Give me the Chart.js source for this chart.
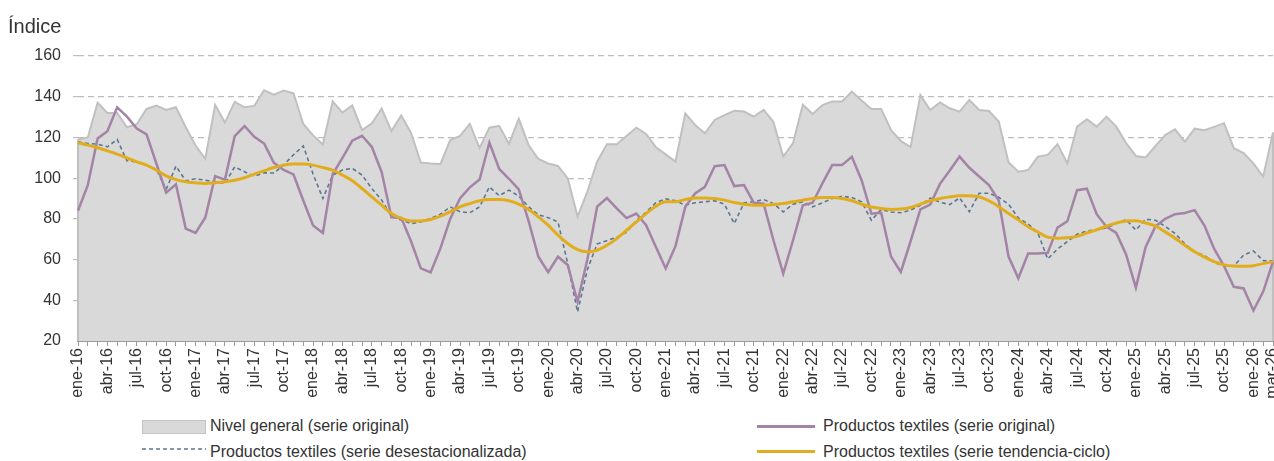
<!DOCTYPE html>
<html lang="es">
<head>
<meta charset="utf-8">
<script src="https://cdn.jsdelivr.net/npm/chart.js@4.4.1/dist/chart.umd.min.js"></script>
<style>
  body { margin: 0; background: #fff; font-family: "Liberation Sans", Arial, sans-serif; color: #333; }
  #wrap { position: relative; width: 1274px; height: 461px; overflow: hidden; }
  #titulo { position: absolute; left: 8px; top: 15px; font-size: 20px; color: #333; }
  #grafico { position: absolute; left: 0; top: 0; }
  .ley { position: absolute; font-size: 16px; color: #333; white-space: nowrap; }
  .sim { position: absolute; }
</style>
</head>
<body>
<div id="wrap">
  <canvas id="grafico" width="1274" height="403"></canvas>
  <div id="titulo">Índice</div>

  <div class="sim" style="left:142px;top:420px;width:62px;height:12px;background:#d9d9d9;border:1px solid #c4c4c4;"></div>
  <div class="ley" style="left:210px;top:417px;">Nivel general (serie original)</div>

  <svg class="sim" style="left:142px;top:446px;" width="64" height="6"><line x1="0" y1="3" x2="64" y2="3" stroke="#5a7892" stroke-width="1.5" stroke-dasharray="4,3"/></svg>
  <div class="ley" style="left:210px;top:443px;">Productos textiles (serie desestacionalizada)</div>

  <div class="sim" style="left:757px;top:425px;width:58px;height:3px;background:#a383a6;"></div>
  <div class="ley" style="left:823px;top:417px;">Productos textiles (serie original)</div>

  <div class="sim" style="left:757px;top:450px;width:58px;height:3px;background:#e2ad1c;"></div>
  <div class="ley" style="left:823px;top:443px;">Productos textiles (serie tendencia-ciclo)</div>
</div>
<script>
/*global Chart*/
var meses = ['ene', 'feb', 'mar', 'abr', 'may', 'jun', 'jul', 'ago', 'sep', 'oct', 'nov', 'dic'];
var anios = ['16', '17', '18', '19', '20', '21', '22', '23', '24', '25', '26'];
var totalMeses = 123; // ene-16 .. mar-26

var nivelGeneral = [
  119, 120, 137, 132, 132, 125, 126.5, 134, 135.6, 133.5,
  134.8, 125, 116, 109.5, 136, 127.3, 137.5, 134.8, 135.5, 143.2,
  141, 143, 141.7, 126.6, 121, 116.5, 137.7, 132.2, 135.8, 123.6,
  126.9, 134.2, 123.1, 130.8, 122.2, 107.7, 107.2, 106.9, 118.7, 120.7,
  126.6, 114.8, 124.8, 125.7, 116.8, 129.1, 116.3, 109.4, 107.2, 106,
  99.9, 81.1, 93.4, 108.1, 116.7, 116.7, 120.7, 124.8, 121.7, 115.2,
  111.7, 108.1, 131.8, 126.1, 122, 128.6, 131, 133.1, 132.7, 130.2,
  133.5, 127.6, 110.6, 117.2, 136.1, 131.5, 135.9, 137.6, 137.7, 142.5,
  138.1, 134, 134, 123.7, 118.3, 115.2, 140.8, 133.5, 137.2, 134.3,
  132.7, 138.4, 133.5, 133, 127.8, 107.8, 103.2, 104, 110.6, 111.4,
  116.7, 107.3, 125.3, 128.9, 125.3, 130.2, 125.3, 117.2, 110.9, 110.2,
  115.8, 121.2, 124, 117.9, 124.3, 123.5, 125.2, 127, 114.7, 112.3,
  107.3, 100.8, 122.4
];

var textilesOriginal = [
  84, 96.5, 119.5, 123, 134.8, 130.2, 124.4, 121.5, 107.2, 92.9,
  97, 75.2, 73.1, 80.7, 101, 99.3, 120.7, 125.6, 120.3, 117,
  107.5, 104, 101.8, 89, 76.8, 73.1, 102, 110, 118.4, 120.8,
  115.3, 103, 80.8, 80.5, 69, 55.7, 53.7, 65.5, 80, 90,
  95.5, 99.3, 117.5, 104.5, 99.7, 94.5, 79, 61.4, 53.8, 61.4,
  57.3, 39.3, 60, 86, 90.2, 85.2, 80.4, 82.6, 76.9, 66.2,
  55.6, 66.6, 85.9, 92.5, 95.7, 105.9, 106.4, 96.1, 96.6, 87.9,
  87.5, 69.5, 53.1, 69.5, 86.7, 87.9, 97.4, 106.4, 106.4, 110.5,
  99, 82.5, 83, 61.5, 53.9, 69, 84.6, 87, 97.2, 103.8,
  110.6, 105.1, 100.8, 96.6, 89, 61.5, 50.8, 63, 63, 63.3,
  75.7, 78.8, 94.1, 94.8, 82.3, 76.1, 73.1, 62.5, 46.2, 66.2,
  76.3, 80, 82.3, 82.9, 84.3, 76.7, 65.2, 56.8, 46.6, 45.8,
  35, 44.3, 59
];

var textilesDesest = [
  117.9, 117, 116.7, 115.4, 119, 108.5, 108, 106.4, 104.3, 94.4,
  105.9, 98.7, 99.7, 99, 98.2, 97.4, 105.6, 103.1, 101, 102.6,
  102.5, 106.5, 111.5, 115.8, 102, 90, 101.5, 104, 104.8, 101.5,
  94.9, 89.2, 81.3, 79.4, 77.7, 78.5, 80.2, 82.3, 85.9, 83.5,
  83, 85.9, 95.7, 91.4, 94.1, 91.2, 85.9, 82, 80.6, 78.5,
  58, 34.3, 55, 67.7, 69.3, 71, 73.4, 79.2, 83.3, 87.9,
  89.8, 88.9, 86.7, 87.9, 88.4, 88.9, 87.2, 77.7, 87.9, 88.4,
  89.5, 87.5, 83.4, 87.2, 88.4, 85.9, 87.9, 90, 91.1, 90.5,
  88.4, 79.3, 84.6, 83.4, 83, 84.3, 86.7, 90.2, 88.2, 87,
  90.3, 83.5, 92.6, 92.6, 90.6, 87.2, 80.4, 77.5, 73, 60.3,
  65.2, 68.8, 72.5, 74, 74.8, 75.5, 77.8, 79.6, 74.5, 79.8,
  79.3, 76.3, 72.8, 67.7, 63.9, 62, 58.5, 57, 56.8, 62.2,
  64.2, 59.5, 59.3
];

var textilesTendencia = [
  117.4, 116.2, 114.9, 113.4, 111.8, 110, 108, 106.4, 103.9, 101.1,
  99.3, 98.2, 97.7, 97.4, 97.7, 98.2, 99, 100.2, 102, 103.6,
  105.2, 106.4, 106.9, 106.9, 106.4, 105.2, 103.9, 101.5, 98.7, 94.9,
  90.8, 86.7, 82.6, 80.2, 79, 79, 79.7, 81.3, 83.4, 85.9,
  87.5, 88.9, 89.5, 89.5, 88.9, 87.2, 84.6, 81, 76.9, 72,
  67.9, 64.9, 63.8, 64.6, 67, 70.3, 74.4, 78.5, 82.6, 86.2,
  88.4, 88.4, 89.5, 90.3, 90.3, 90, 89.2, 88, 87.2, 86.7,
  86.7, 87, 87.5, 88.4, 89.2, 90, 90.5, 90.5, 90, 88.9,
  87.2, 85.8, 85.1, 84.6, 84.8, 85.6, 87.2, 88.9, 90, 90.8,
  91.4, 91.3, 90.8, 88.9, 86, 82.6, 79.5, 76.1, 73.5, 71,
  70.5, 70.7, 71.4, 73.1, 74.6, 76.4, 77.9, 79, 79.1, 78,
  76.5, 73.6, 70.5, 67, 63.8, 61.2, 59, 57.4, 56.8, 56.7,
  57, 58, 59
];

var etiquetas = [];
anios.forEach(function(a) {
  meses.forEach(function(m) {
    if (etiquetas.length < totalMeses) etiquetas.push(m + '-' + a);
  });
});

Chart.defaults.font.family = '"Liberation Sans", Arial, sans-serif';
Chart.defaults.color = '#333';

// Excel dibuja los bordes verticales del área en ambos extremos
var bordesArea = {
  id: 'bordesArea',
  afterDatasetDraw: function(chart, args) {
    if (args.index !== 0) return;
    var pts = args.meta.data;
    var base = chart.scales.y.getPixelForValue(20);
    var ctx = chart.ctx;
    ctx.save();
    ctx.strokeStyle = '#c0c0c0';
    ctx.lineWidth = 2;
    [pts[0], pts[pts.length - 1]].forEach(function(p) {
      ctx.beginPath();
      ctx.moveTo(p.x, base);
      ctx.lineTo(p.x, p.y);
      ctx.stroke();
    });
    ctx.restore();
  }
};

new Chart(document.getElementById('grafico').getContext('2d'), {
  type: 'line',
  data: {
    labels: etiquetas,
    datasets: [{
      label: 'Nivel general (serie original)',
      data: nivelGeneral,
      borderColor: '#c0c0c0',
      backgroundColor: '#d9d9d9',
      borderWidth: 2,
      fill: 'start',
      pointRadius: 0,
      tension: 0,
      order: 4
    }, {
      label: 'Productos textiles (serie desestacionalizada)',
      data: textilesDesest,
      borderColor: '#5a7892',
      borderWidth: 1.6,
      borderDash: [4, 3],
      fill: false,
      pointRadius: 0,
      tension: 0,
      order: 3
    }, {
      label: 'Productos textiles (serie original)',
      data: textilesOriginal,
      borderColor: '#a383a6',
      borderWidth: 2.5,
      fill: false,
      pointRadius: 0,
      tension: 0,
      order: 2
    }, {
      label: 'Productos textiles (serie tendencia-ciclo)',
      data: textilesTendencia,
      borderColor: '#e2ad1c',
      borderWidth: 3,
      fill: false,
      pointRadius: 0,
      cubicInterpolationMode: 'monotone',
      order: 1
    }]
  },
  options: {
    responsive: false,
    animation: false,
    layout: { padding: { left: 0, right: 1, top: 56, bottom: 0 } },
    plugins: {
      legend: { display: false },
      tooltip: { enabled: false }
    },
    scales: {
      x: {
        offset: false,
        grid: {
          display: true,
          drawOnChartArea: false,
          drawTicks: true,
          tickLength: 5,
          tickColor: '#9a9a9a',
          tickWidth: 1
        },
        border: { display: true, color: '#9a9a9a', width: 2 },
        ticks: {
          autoSkip: false,
          maxRotation: 90,
          minRotation: 90,
          padding: 2,
          font: { size: 16 },
          color: '#333',
          callback: function(val, i) {
            return (i % 3 === 0 || i === totalMeses - 1) ? etiquetas[i] : '';
          }
        },
        afterFit: function(scale) {
          scale.height = 62;
          scale.paddingLeft = 0;
          scale.paddingRight = 0;
        }
      },
      y: {
        min: 20,
        max: 160,
        ticks: {
          stepSize: 20,
          padding: 12,
          font: { size: 16 },
          color: '#333'
        },
        grid: {
          color: function(ctx) { return ctx.tick && ctx.tick.value === 20 ? 'rgba(0,0,0,0)' : '#bdbdbd'; },
          lineWidth: 1.2,
          tickLength: 5,
          tickBorderDash: [6, 4]
        },
        border: { display: false, dash: [6, 4] },
        afterFit: function(scale) {
          scale.width = 78;
        }
      }
    }
  },
  plugins: [bordesArea]
});
</script>
</body>
</html>
